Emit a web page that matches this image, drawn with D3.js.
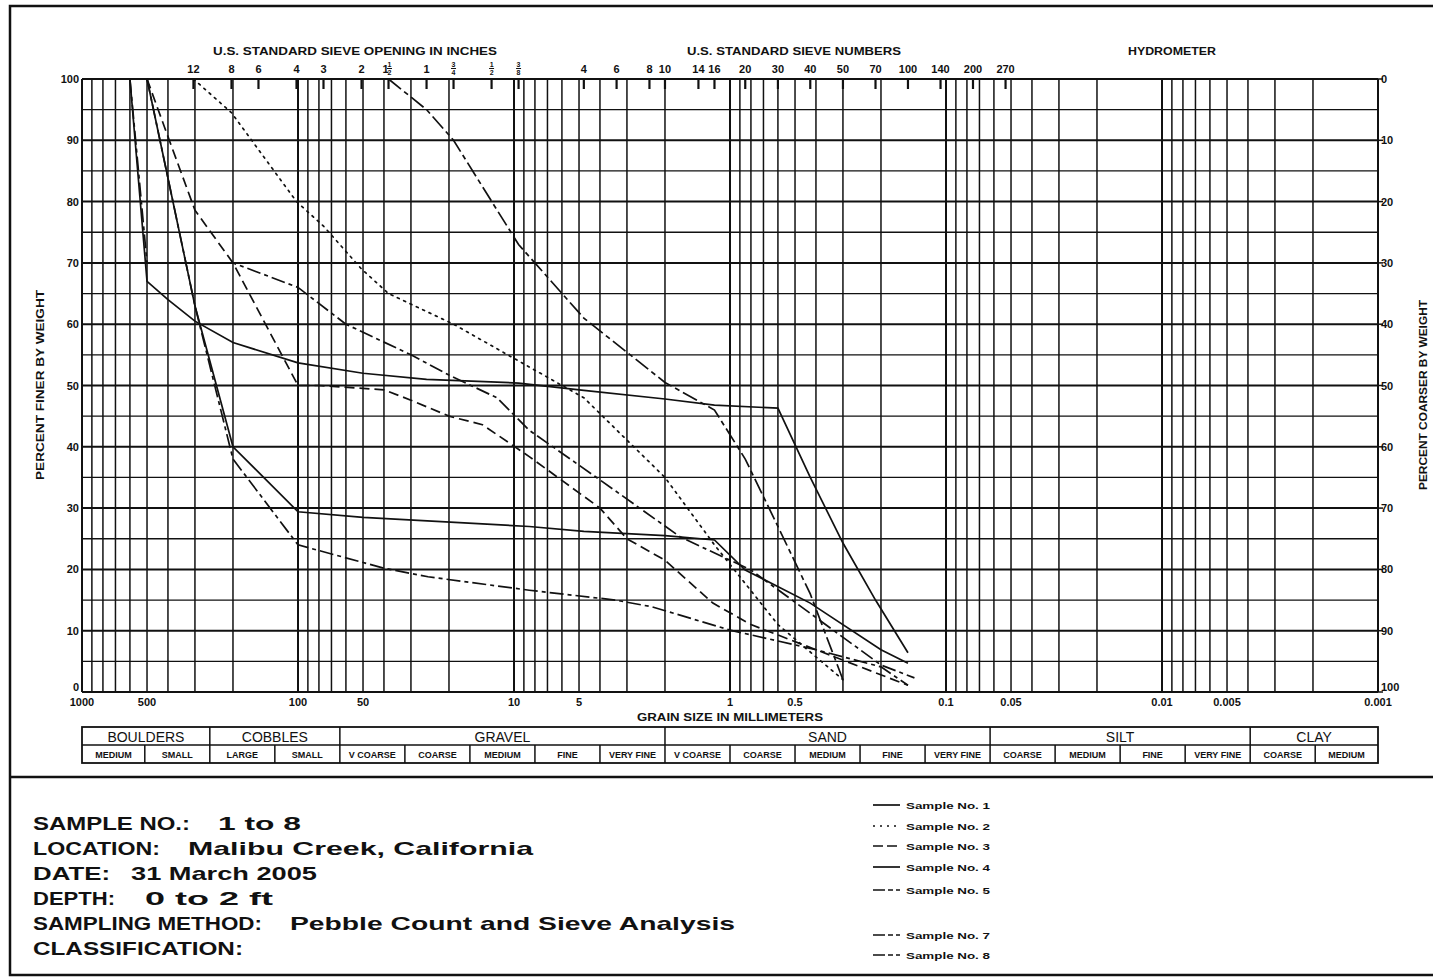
<!DOCTYPE html>
<html>
<head>
<meta charset="utf-8">
<script src="https://cdn.jsdelivr.net/npm/d3@7"></script>
<style>
  body { margin: 0; background: #fff; }
  svg { display: block; }
  text { font-family: "Liberation Sans", Arial, sans-serif; fill: #111; }
</style>
</head>
<body>
<div id="chart"></div>
<script>
// ---- data ----
const axisLabelsMm = [1000, 500, 100, 50, 10, 5, 1, 0.5, 0.1, 0.05, 0.01, 0.005, 0.001];
const axisLabelText = ["1000", "500", "100", "50", "10", "5", "1", "0.5", "0.1", "0.05", "0.01", "0.005", "0.001"];
const percentTicks = [0, 10, 20, 30, 40, 50, 60, 70, 80, 90, 100];
const percentMinor = [5, 15, 25, 35, 45, 55, 65, 75, 85, 95];

const sieveInchLabels = ["12", "8", "6", "4", "3", "2", "1 1/2", "1", "3/4", "1/2", "3/8"];
const sieveInchMm = [304.8, 203.2, 152.4, 101.6, 76.2, 50.8, 38.1, 25.4, 19.05, 12.7, 9.525];
const sieveNoLabels = ["4", "6", "8", "10", "14", "16", "20", "30", "40", "50", "70", "100", "140", "200", "270"];
const sieveNoMm = [4.75, 3.35, 2.36, 2.0, 1.4, 1.18, 0.85, 0.6, 0.425, 0.3, 0.212, 0.15, 0.106, 0.075, 0.053];

const classBreaksMm = [1000, 512, 256, 128, 64, 32, 16, 8, 4, 2, 1, 0.5, 0.25, 0.125, 0.0625,
                       0.03125, 0.015625, 0.0078125, 0.00390625, 0.001953125, 0.001];
const classNames = ["BOULDERS", "COBBLES", "GRAVEL", "SAND", "SILT", "CLAY"];
const classSpans = [[0, 2], [2, 4], [4, 9], [9, 14], [14, 18], [18, 20]];
const subClassNames = ["MEDIUM", "SMALL", "LARGE", "SMALL", "V COARSE", "COARSE", "MEDIUM", "FINE", "VERY FINE",
                       "V COARSE", "COARSE", "MEDIUM", "FINE", "VERY FINE", "COARSE", "MEDIUM", "FINE", "VERY FINE",
                       "COARSE", "MEDIUM"];

// [grain size mm, percent finer]
const sample1 = [[600, 100], [500, 67], [400, 64], [300, 60.5], [200, 57], [100, 53.7], [50, 52], [25.4, 51],
                 [9.525, 50.4], [4.75, 49.2], [2.0, 47.8], [1.18, 46.8], [0.6, 46.3], [0.425, 35], [0.3, 24.3],
                 [0.212, 15], [0.15, 6.4]];
const sample2 = [[304.8, 100], [203.2, 94.5], [101.6, 80], [76.2, 76], [50.8, 69], [38.1, 65], [19.05, 60],
                 [9.525, 54], [4.75, 48], [2.0, 35], [1.18, 24], [0.6, 11], [0.3, 2]];
const sample3 = [[500, 100], [400, 90.6], [300, 78.6], [200, 70], [100, 50], [80, 50], [40, 49.3], [30, 47.6],
                 [20, 45], [14, 43.6], [8.5, 38.4], [4, 30], [3, 25], [2, 21.5], [1.2, 14.5], [0.8, 11],
                 [0.4, 6.9], [0.15, 1.1]];
const sample4 = [[500, 100], [300, 63], [200, 40], [100, 29.4], [50, 28.5], [8.5, 27], [4.75, 26.2], [2, 25.5],
                 [1.18, 24.8], [0.85, 19.9], [0.425, 14.5], [0.2, 6.9], [0.15, 4.7]];
const sample5 = [[600, 100], [500, 70], [200, 70], [100, 66], [60, 60], [30, 55], [20, 51.7], [12, 48],
                 [8.5, 42.7], [4, 34.6], [1.7, 25.3], [0.8, 19.9], [0.2, 4.4], [0.14, 2.3]];
const sample7 = [[500, 100], [300, 63], [200, 38], [100, 24], [40, 20.2], [25, 18.8], [8.5, 16.6], [3.4, 15],
                 [2.3, 13.9], [1, 10.1], [0.4, 6.9], [0.2, 4.1], [0.15, 1.1]];
const sample8 = [[38.1, 100], [25.4, 95], [19.05, 90], [9.525, 73], [4.75, 61], [2.0, 50.5], [1.18, 46],
                 [0.85, 38], [0.6, 27], [0.425, 16], [0.3, 2]];

const sampleNames = ["Sample No. 1", "Sample No. 2", "Sample No. 3", "Sample No. 4", "Sample No. 5", "Sample No. 7", "Sample No. 8"];
const sampleData = [sample1, sample2, sample3, sample4, sample5, sample7, sample8];
const sampleDash = ["none", "2,5", "10,5", "none", "14,4,4,4", "14,4,4,4", "16,4,5,4"];
const legendRowY = [805, 826, 846, 867, 890, 935, 955];

const infoLabels = ["SAMPLE NO.:", "LOCATION:", "DATE:", "DEPTH:", "SAMPLING METHOD:", "CLASSIFICATION:"];
const infoValues = ["1 to 8", "Malibu Creek, California", "31 March 2005", "0 to 2 ft", "Pebble Count and Sieve Analysis", ""];

// ---- drawing ----
const W = 1433, H = 977;
const svg = d3.select("#chart").append("svg").attr("width", W).attr("height", H);

const x = d3.scaleLog().domain([1000, 0.001]).range([82, 1378]);
const y = d3.scaleLinear().domain([0, 100]).range([692, 79]);

// sheet frame
svg.append("rect").attr("x", 10).attr("y", 6).attr("width", 1440).attr("height", 969)
  .attr("fill", "none").attr("stroke", "#111").attr("stroke-width", 2.5);
svg.append("line").attr("x1", 10).attr("x2", W).attr("y1", 777).attr("y2", 777)
  .attr("stroke", "#111").attr("stroke-width", 2.5);

const grid = svg.append("g");
// vertical log grid
grid.selectAll("line.v").data(x.ticks()).enter().append("line")
  .attr("x1", d => x(d)).attr("x2", d => x(d)).attr("y1", y(100)).attr("y2", y(0))
  .attr("stroke", "#111").attr("stroke-width", d => Math.abs(Math.log10(d) % 1) < 1e-6 ? 2 : 1.5);
// horizontal grid
grid.selectAll("line.hm").data(percentMinor).enter().append("line")
  .attr("x1", x(1000)).attr("x2", x(0.001)).attr("y1", d => y(d)).attr("y2", d => y(d))
  .attr("stroke", "#111").attr("stroke-width", 1.3);
grid.selectAll("line.hM").data(percentTicks).enter().append("line")
  .attr("x1", x(1000)).attr("x2", x(0.001)).attr("y1", d => y(d)).attr("y2", d => y(d))
  .attr("stroke", "#111").attr("stroke-width", 2);

// left axis labels
svg.selectAll("text.yl").data(percentTicks).enter().append("text")
  .attr("x", 79).attr("y", d => y(d) + (d === 0 ? -1 : 4))
  .attr("text-anchor", "end").attr("font-size", 11).attr("font-weight", "bold")
  .text(d => d);
// right axis ticks and labels
svg.selectAll("line.rt").data(percentTicks).enter().append("line")
  .attr("x1", x(0.001)).attr("x2", x(0.001) + 5).attr("y1", d => y(d)).attr("y2", d => y(d))
  .attr("stroke", "#111").attr("stroke-width", 1.5);
svg.selectAll("text.yr").data(percentTicks).enter().append("text")
  .attr("x", 1381).attr("y", d => y(d) + (d === 0 ? -1 : 4))
  .attr("font-size", 11).attr("font-weight", "bold")
  .text(d => 100 - d);

// bottom grain size labels
svg.selectAll("text.xl").data(axisLabelsMm).enter().append("text")
  .attr("x", d => x(d)).attr("y", 706).attr("text-anchor", "middle")
  .attr("font-size", 11).attr("font-weight", "bold")
  .text((d, i) => axisLabelText[i]);
svg.append("text").attr("x", 730).attr("y", 721).attr("text-anchor", "middle")
  .attr("font-size", 10.5).attr("font-weight", "bold")
  .attr("textLength", 186).attr("lengthAdjust", "spacingAndGlyphs")
  .text("GRAIN SIZE IN MILLIMETERS");

// top headers
const headers = [["U.S. STANDARD SIEVE OPENING IN INCHES", 213, 284], ["U.S. STANDARD SIEVE NUMBERS", 687, 214], ["HYDROMETER", 1128, 88]];
headers.forEach(h => {
  svg.append("text").attr("x", h[1]).attr("y", 55).attr("font-size", 11).attr("font-weight", "bold")
    .attr("textLength", h[2]).attr("lengthAdjust", "spacingAndGlyphs").text(h[0]);
});

// sieve ticks and labels (fractions stacked like on the printed form)
const sieveMm = sieveInchMm.concat(sieveNoMm);
const sieveLabels = sieveInchLabels.concat(sieveNoLabels);
svg.selectAll("line.st").data(sieveMm).enter().append("line")
  .attr("x1", d => x(d)).attr("x2", d => x(d)).attr("y1", y(100)).attr("y2", y(100) + 10)
  .attr("stroke", "#111").attr("stroke-width", 2.2);
svg.selectAll("g.sl").data(sieveMm).enter().append("g")
  .attr("transform", d => "translate(" + x(d) + ",0)")
  .each(function (d, i) {
    const g = d3.select(this);
    const lab = sieveLabels[i];
    const m = lab.match(/^(?:(\d+) )?(\d+)\/(\d+)$/);
    if (!m) {
      g.append("text").attr("y", 73).attr("text-anchor", "middle")
        .attr("font-size", 11).attr("font-weight", "bold").text(lab);
      return;
    }
    let cx = 0;
    if (m[1]) {
      g.append("text").attr("x", -3).attr("y", 73).attr("text-anchor", "middle")
        .attr("font-size", 11).attr("font-weight", "bold").text(m[1]);
      cx = 1;
    }
    g.append("text").attr("x", cx).attr("y", 67).attr("text-anchor", "middle")
      .attr("font-size", 7).attr("font-weight", "bold").text(m[2]);
    g.append("line").attr("x1", cx - 2.5).attr("x2", cx + 2.5).attr("y1", 68.5).attr("y2", 68.5)
      .attr("stroke", "#111").attr("stroke-width", 1);
    g.append("text").attr("x", cx).attr("y", 75).attr("text-anchor", "middle")
      .attr("font-size", 7).attr("font-weight", "bold").text(m[3]);
  });

// y titles
svg.append("text").attr("transform", "translate(44,385) rotate(-90)").attr("text-anchor", "middle")
  .attr("font-size", 10).attr("font-weight", "bold")
  .attr("textLength", 190).attr("lengthAdjust", "spacingAndGlyphs").text("PERCENT FINER BY WEIGHT");
svg.append("text").attr("transform", "translate(1427,395) rotate(-90)").attr("text-anchor", "middle")
  .attr("font-size", 10).attr("font-weight", "bold")
  .attr("textLength", 190).attr("lengthAdjust", "spacingAndGlyphs").text("PERCENT COARSER BY WEIGHT");

// classification table
const tTop = 727, tMid = 745, tBot = 763;
const table = svg.append("g");
table.append("rect").attr("x", x(1000)).attr("y", tTop).attr("width", x(0.001) - x(1000)).attr("height", tBot - tTop)
  .attr("fill", "none").attr("stroke", "#111").attr("stroke-width", 1.8);
table.append("line").attr("x1", x(1000)).attr("x2", x(0.001)).attr("y1", tMid).attr("y2", tMid)
  .attr("stroke", "#111").attr("stroke-width", 1.5);
const subEdges = classBreaksMm.slice(1, -1);
table.selectAll("line.sub").data(subEdges).enter().append("line")
  .attr("x1", d => x(d)).attr("x2", d => x(d)).attr("y1", tMid).attr("y2", tBot)
  .attr("stroke", "#111").attr("stroke-width", 1.5);
table.selectAll("line.main").data(classSpans.slice(1)).enter().append("line")
  .attr("x1", d => x(classBreaksMm[d[0]])).attr("x2", d => x(classBreaksMm[d[0]]))
  .attr("y1", tTop).attr("y2", tMid).attr("stroke", "#111").attr("stroke-width", 1.5);
table.selectAll("text.main").data(classSpans).enter().append("text")
  .attr("x", d => (x(classBreaksMm[d[0]]) + x(classBreaksMm[d[1]])) / 2).attr("y", tMid - 3)
  .attr("text-anchor", "middle").attr("font-size", 14)
  .text((d, i) => classNames[i]);
table.selectAll("text.sub").data(subClassNames).enter().append("text")
  .attr("x", (d, i) => (x(classBreaksMm[i]) + x(classBreaksMm[i + 1])) / 2).attr("y", tBot - 5)
  .attr("text-anchor", "middle").attr("font-size", 9).attr("font-weight", "bold")
  .text(d => d)
  .each(function () {
    const w = this.getComputedTextLength();
    if (w > 60) d3.select(this).attr("textLength", 60).attr("lengthAdjust", "spacingAndGlyphs");
  });

// sample curves
const line = d3.line().x(d => x(d[0])).y(d => y(d[1]));
svg.append("g").selectAll("path").data(sampleData).enter().append("path")
  .attr("d", line).attr("fill", "none").attr("stroke", "#111").attr("stroke-width", 1.7)
  .attr("stroke-dasharray", (d, i) => sampleDash[i])
  .attr("stroke-linecap", (d, i) => i === 1 ? "round" : "butt");

// legend
const legend = svg.append("g");
legend.selectAll("line").data(sampleNames).enter().append("line")
  .attr("x1", 873).attr("x2", 900).attr("y1", (d, i) => legendRowY[i]).attr("y2", (d, i) => legendRowY[i])
  .attr("stroke", "#111").attr("stroke-width", 1.7)
  .attr("stroke-dasharray", (d, i) => sampleDash[i] === "none" ? "none" : (i === 1 ? "2,5" : (i === 2 ? "10,4" : "12,3,5,3")));
legend.selectAll("text").data(sampleNames).enter().append("text")
  .attr("x", 906).attr("y", (d, i) => legendRowY[i] + 3.5)
  .attr("font-size", 9).attr("font-weight", "bold")
  .attr("textLength", 84).attr("lengthAdjust", "spacingAndGlyphs")
  .text(d => d);

// sample info block
const infoY = [830, 855, 880, 905, 930, 955];
const infoLabelW = [157, 127, 77, 82, 229, 210];
const infoValueX = [218, 188, 131, 145, 290, 0];
const infoValueW = [83, 345, 186, 128, 445, 0];
infoLabels.forEach((t, i) => {
  svg.append("text").attr("x", 33).attr("y", infoY[i])
    .attr("font-family", "'DejaVu Sans', sans-serif").attr("font-size", 19).attr("font-weight", "bold")
    .attr("textLength", infoLabelW[i]).attr("lengthAdjust", "spacingAndGlyphs").text(t);
  if (infoValues[i]) {
    svg.append("text").attr("x", infoValueX[i]).attr("y", infoY[i])
      .attr("font-family", "'DejaVu Sans', sans-serif").attr("font-size", 19).attr("font-weight", "bold")
      .attr("textLength", infoValueW[i]).attr("lengthAdjust", "spacingAndGlyphs").text(infoValues[i]);
  }
});
</script>
</body>
</html>
